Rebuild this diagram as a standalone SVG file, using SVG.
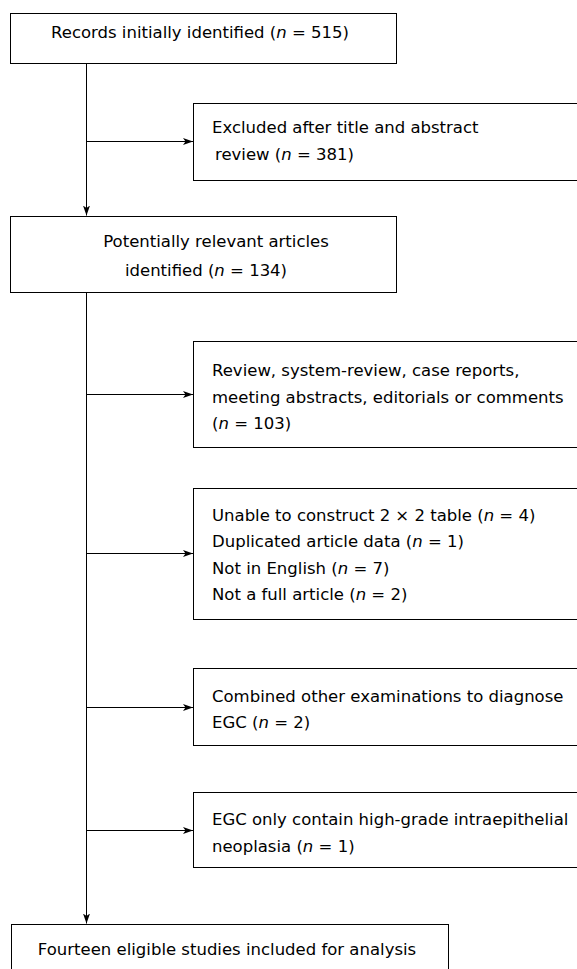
<svg xmlns="http://www.w3.org/2000/svg" width="577" height="969" viewBox="0 0 577 969">
<defs>
<style>
.box{fill:#fff;stroke:#000;stroke-width:1}
.t{font-family:"DejaVu Sans",Verdana,sans-serif;font-size:16.5px;fill:#000}
.c{text-anchor:middle}
.i{font-style:italic}
.ln{stroke:#000;stroke-width:1;fill:none}
</style>
<marker id="ah" viewBox="0 0 10 7" refX="10" refY="3.5" markerWidth="10" markerHeight="7" markerUnits="userSpaceOnUse" orient="auto">
<path d="M0,0 L10,3.5 L0,7 L2.5,3.5 z" fill="#000"/>
</marker>
</defs>
<rect width="577" height="969" fill="#fff"/>
<g id="connectors">
<path class="ln" d="M86.5,63 V215.5" marker-end="url(#ah)"/>
<path class="ln" d="M86.5,141.5 H193" marker-end="url(#ah)"/>
<path class="ln" d="M86.5,292 V923.5" marker-end="url(#ah)"/>
<path class="ln" d="M86.5,394.5 H193" marker-end="url(#ah)"/>
<path class="ln" d="M86.5,553.5 H193" marker-end="url(#ah)"/>
<path class="ln" d="M86.5,707.5 H193" marker-end="url(#ah)"/>
<path class="ln" d="M86.5,830.5 H193" marker-end="url(#ah)"/>
</g>
<g id="records">
<rect class="box" x="10.5" y="13.5" width="386" height="50"/>
<text class="t c" x="200" y="38">Records initially identified (<tspan class="i">n</tspan> = 515)</text>
</g>
<g id="excluded">
<rect class="box" x="193.5" y="103.5" width="400" height="77"/>
<text class="t" x="212" y="133">Excluded after title and abstract</text>
<text class="t" x="215" y="160">review (<tspan class="i">n</tspan> = 381)</text>
</g>
<g id="relevant">
<rect class="box" x="10.5" y="216.5" width="386" height="76"/>
<text class="t c" x="216" y="247">Potentially relevant articles</text>
<text class="t c" x="206" y="276">identified (<tspan class="i">n</tspan> = 134)</text>
</g>
<g id="review">
<rect class="box" x="193.5" y="341.5" width="400" height="106"/>
<text class="t" x="212" y="376">Review, system-review, case reports,</text>
<text class="t" x="212" y="402.5">meeting abstracts, editorials or comments</text>
<text class="t" x="212" y="429">(<tspan class="i">n</tspan> = 103)</text>
</g>
<g id="unable">
<rect class="box" x="193.5" y="488.5" width="400" height="131"/>
<text class="t" x="212" y="521">Unable to construct 2 × 2 table (<tspan class="i">n</tspan> = 4)</text>
<text class="t" x="212" y="547">Duplicated article data (<tspan class="i">n</tspan> = 1)</text>
<text class="t" x="212" y="573.5">Not in English (<tspan class="i">n</tspan> = 7)</text>
<text class="t" x="212" y="600">Not a full article (<tspan class="i">n</tspan> = 2)</text>
</g>
<g id="combined">
<rect class="box" x="193.5" y="668.5" width="400" height="77"/>
<text class="t" x="212" y="702">Combined other examinations to diagnose</text>
<text class="t" x="212" y="728">EGC (<tspan class="i">n</tspan> = 2)</text>
</g>
<g id="egc">
<rect class="box" x="193.5" y="792.5" width="400" height="75"/>
<text class="t" x="212" y="825">EGC only contain high-grade intraepithelial</text>
<text class="t" x="212" y="852">neoplasia (<tspan class="i">n</tspan> = 1)</text>
</g>
<g id="fourteen">
<rect class="box" x="11.5" y="924.5" width="437" height="60"/>
<text class="t c" x="227" y="955">Fourteen eligible studies included for analysis</text>
</g>
</svg>
